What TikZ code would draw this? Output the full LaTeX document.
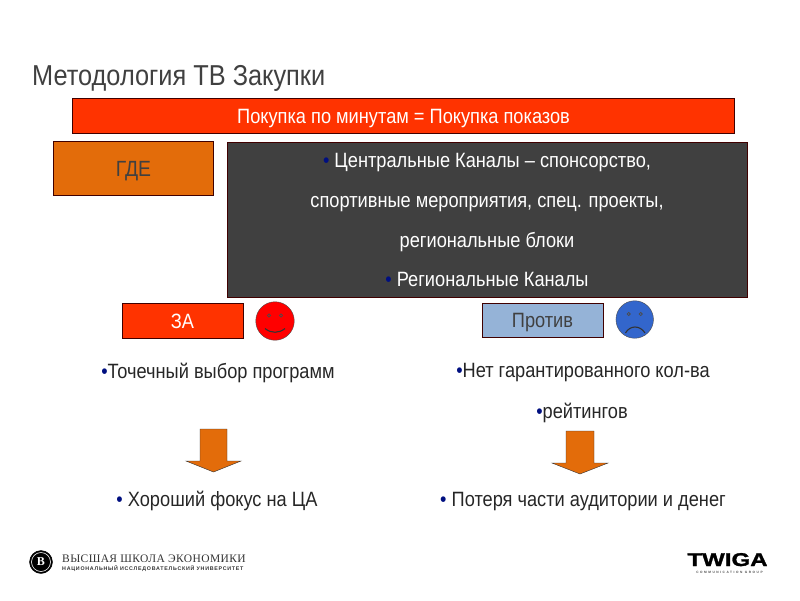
\documentclass[tikz,border=0pt]{standalone}
\usepackage{fontspec}
\setmainfont[FakeStretch=0.88]{Liberation Sans}
\newfontfamily\hsefont[LetterSpace=3.5]{Liberation Serif}
\newfontfamily\subfont[LetterSpace=14]{Liberation Sans}
\newfontfamily\groupfont[LetterSpace=48]{Liberation Sans}
\newfontfamily\twigafont[FakeStretch=1.3,FakeBold=1.5]{Liberation Sans}
\usepackage{xcolor}

\definecolor{barred}{HTML}{FF3300}
\definecolor{boxorange}{HTML}{E36C0A}
\definecolor{boxgrey}{HTML}{404040}
\definecolor{boxblue}{HTML}{95B3D7}
\definecolor{faceblue}{HTML}{3366CC}
\definecolor{textgrey}{HTML}{404040}
\definecolor{dotblue}{HTML}{000F80}
\newcommand{\dotmark}{\textcolor{dotblue}{\textbullet}}
\tikzset{
  panel/.style={draw=black!75!red, thick, minimum height=#1, inner sep=0pt, text height=15pt, text depth=0pt, font=\fontsize{20.7}{20.7}\selectfont},
  plain/.style={font=\fontsize{20.7}{20.7}\selectfont, inner sep=0pt, text height=15pt, text depth=0pt, text=black!85},
  face/.style={circle, draw=black!70, minimum size=#1, inner sep=0pt},
  eye/.style={draw=black!70, line width=0.8pt},
  mouth/.style={draw=black!80, line width=1.1pt},
  blockdown/.style={draw=black!80, fill=boxorange}
}

\begin{document}
\begin{tikzpicture}[x=1pt, y=-1pt]
    \useasboundingbox (0,0) rectangle (800,600);
    % Title
    \node[anchor=base west, inner sep=0pt, text=textgrey, font=\fontsize{28.8}{28.8}\selectfont] (title) at (32,85) {Методология ТВ Закупки};

    % Top bar and the two upper boxes
    \node[panel=35pt, fill=barred, text=white, minimum width=662pt] (topbar) at (403.5,116) {Покупка по минутам = Покупка показов};
    \node[panel=54pt, fill=boxorange, text=textgrey, minimum width=160pt, font=\fontsize{22}{22}\selectfont] (where) at (133.5,168.7) {ГДЕ};
    \node[panel=155pt, fill=boxgrey, text=white, minimum width=520pt] (channels) at (487,219.5) {};
    \node[plain, text=white] (line1) at (487,160) {\dotmark{} Центральные Каналы – спонсорство,};
    \node[plain, text=white] (line2) at (487,200) {спортивные мероприятия, спец. проекты,};
    \node[plain, text=white] (line3) at (487,240) {региональные блоки};
    \node[plain, text=white] (line4) at (487,279) {\dotmark{} Региональные Каналы};

    % Pro column
    \node[panel=35pt, fill=barred, text=white, minimum width=121pt] (pro) at (182.5,320.5) {ЗА};
    \node[face=38.5pt, fill=red] (smile) at (275,321) {};
    \draw[eye] (269,315.5) circle (1.6) (281,315.5) circle (1.6);
    \draw[mouth] (265,328.5) .. controls (271,333.5) and (279,333.5) .. (285,328.5);
    \node[plain] (prowhy) at (218,371) {\dotmark{}Точечный выбор программ};
    \draw[blockdown] (200,429) -- (227,429) -- (227,461) -- (241,461) -- (213.5,472) -- (186,461) -- (200,461) -- cycle;
    \node[plain] (proend) at (217,499) {\dotmark{} Хороший фокус на ЦА};

    % Contra column
    \node[panel=34pt, fill=boxblue, text=textgrey, minimum width=121pt] (contra) at (542.5,320) {Против};
    \node[face=37.5pt, fill=faceblue] (frown) at (634.7,319.5) {};
    \draw[eye] (628.7,314) circle (1.6) (640.7,314) circle (1.6);
    \draw[mouth] (625.5,333) .. controls (630,325) and (640,325) .. (645,333);
    \node[plain] (conwhy) at (583,370) {\dotmark{}Нет гарантированного кол-ва};
    \node[plain] (conwhy2) at (582,411) {\dotmark{}рейтингов};
    \draw[blockdown] (566,431) -- (594,431) -- (594,463) -- (608,463) -- (580,474) -- (552,463) -- (566,463) -- cycle;
    \node[plain] (conend) at (583,499) {\dotmark{} Потеря части аудитории и денег};

    % Logos
    \node[circle, fill=black, draw=black, minimum size=23pt, inner sep=0pt, text=white, font=\hsefont\bfseries\fontsize{12}{12}\selectfont] (hselogo) at (41,562) {В};
    \draw[white, line width=0.6pt] (hselogo) circle (9.5);
    \node[anchor=base west, inner sep=0pt, text=black!80, font=\hsefont\fontsize{11.5}{11.5}\selectfont] (hse) at (62,562) {ВЫСШАЯ ШКОЛА ЭКОНОМИКИ};
    \node[anchor=base west, inner sep=0pt, text=black!80, font=\subfont\bfseries\fontsize{5.3}{5.3}\selectfont] (hsesub) at (62,570) {НАЦИОНАЛЬНЫЙ ИССЛЕДОВАТЕЛЬСКИЙ УНИВЕРСИТЕТ};
    \node[anchor=base, inner sep=0pt, font=\twigafont\bfseries\fontsize{18.5}{18.5}\selectfont] (twiga) at (727.5,566) {TWIGA};
    \node[anchor=base, inner sep=0pt, text=black!70, font=\groupfont\bfseries\fontsize{3.2}{3.2}\selectfont] (twigasub) at (729.5,573.5) {COMMUNICATION GROUP};
\end{tikzpicture}
\end{document}
